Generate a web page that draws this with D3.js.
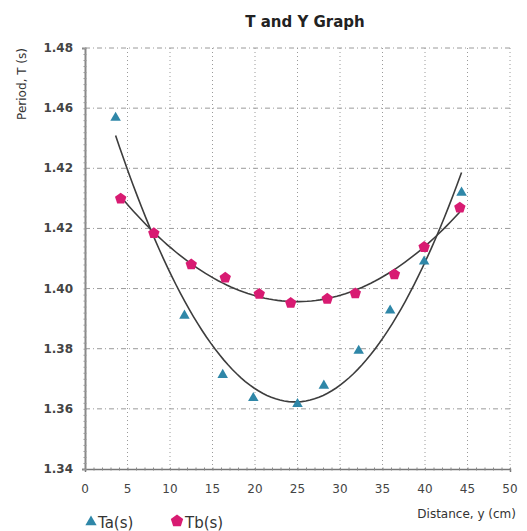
<!DOCTYPE html>
<html>
<head>
<meta charset="utf-8">
<script src="https://cdn.jsdelivr.net/npm/d3@7"></script>
<style>
  body { margin: 0; background: #fff; }
  svg text { font-family: "DejaVu Sans", Verdana, sans-serif; }
</style>
</head>
<body>
<div id="chart-area"></div>
<script>
// distance y (cm) and periods
const taX = [3.6, 11.7, 16.2, 19.8, 25.0, 28.1, 32.2, 35.9, 39.9, 44.3];
const taY = [1.4568, 1.391, 1.3713, 1.3636, 1.3616, 1.3677, 1.3793, 1.3927, 1.409, 1.4319];
const tbX = [4.2, 8.1, 12.5, 16.5, 20.5, 24.2, 28.5, 31.8, 36.4, 39.9, 44.1];
const tbY = [1.4299, 1.4184, 1.408, 1.4036, 1.3982, 1.3952, 1.3966, 1.3984, 1.4047, 1.4138, 1.4269];

const xTicks = [0, 5, 10, 15, 20, 25, 30, 35, 40, 45, 50];
const yTicks = [1.34, 1.36, 1.38, 1.40, 1.42, 1.44, 1.46, 1.48];
const yTickLabels = ["1.34", "1.36", "1.38", "1.40", "1.42", "1.42", "1.46", "1.48"];

const svgWidth = 527, svgHeight = 531;
const margin = { top: 48, right: 17, bottom: 62, left: 85 };
const width = svgWidth - margin.left - margin.right;
const height = svgHeight - margin.top - margin.bottom;

const svg = d3.select("#chart-area").append("svg")
    .attr("width", svgWidth)
    .attr("height", svgHeight);

const g = svg.append("g")
    .attr("transform", `translate(${margin.left},${margin.top})`);

const xScale = d3.scaleLinear().domain([0, 50]).range([0, width]);
const yScale = d3.scaleLinear().domain([1.34, 1.48]).range([height, 0]);

// grid
g.append("g")
    .selectAll("line")
    .data(xTicks.slice(1))
    .join("line")
    .attr("x1", d => xScale(d)).attr("x2", d => xScale(d))
    .attr("y1", 0).attr("y2", height)
    .attr("stroke", "#9a9a9a")
    .attr("stroke-width", 1)
    .attr("stroke-dasharray", "1,3");

g.append("g")
    .selectAll("line")
    .data(yTicks.slice(1))
    .join("line")
    .attr("x1", 0).attr("x2", width)
    .attr("y1", d => yScale(d)).attr("y2", d => yScale(d))
    .attr("stroke", "#9a9a9a")
    .attr("stroke-width", 1)
    .attr("stroke-dasharray", "5,3,1,3");

// axes with minor ticks
const xAxisG = g.append("g")
    .attr("transform", `translate(0,${height})`)
    .call(d3.axisBottom(xScale).ticks(50).tickSize(3).tickFormat(""));
xAxisG.select(".domain").attr("stroke", "#777").attr("stroke-width", 1.5);
xAxisG.selectAll(".tick line").attr("stroke", "#888").attr("transform", "translate(0,-1.5)");

g.append("g")
    .selectAll("text")
    .data(xTicks)
    .join("text")
    .attr("x", d => xScale(d))
    .attr("y", height + 24)
    .attr("text-anchor", "middle")
    .style("font-size", "12px")
    .attr("fill", "#444")
    .text(d => d);

const yAxisG = g.append("g")
    .call(d3.axisLeft(yScale).ticks(70).tickSize(3).tickFormat(""));
yAxisG.select(".domain").attr("stroke", "#888").attr("stroke-width", 2);
yAxisG.selectAll(".tick line").attr("stroke", "#999").attr("transform", "translate(1.5,0)");

g.append("g")
    .selectAll("text")
    .data(yTicks)
    .join("text")
    .attr("x", -12)
    .attr("y", d => yScale(d) + 4)
    .attr("text-anchor", "end")
    .style("font-size", "12px")
    .style("font-weight", "bold")
    .attr("fill", "#444")
    .text((d, i) => yTickLabels[i]);

// quadratic trendlines (least squares on the data)
function quadFit(xs, ys) {
    let s = [0, 0, 0, 0, 0], t = [0, 0, 0];
    xs.forEach((x, i) => {
        for (let k = 0; k < 5; k++) s[k] += Math.pow(x, k);
        for (let k = 0; k < 3; k++) t[k] += ys[i] * Math.pow(x, k);
    });
    const m = [[s[0], s[1], s[2], t[0]], [s[1], s[2], s[3], t[1]], [s[2], s[3], s[4], t[2]]];
    for (let c = 0; c < 3; c++) {
        for (let r = c + 1; r < 3; r++) {
            const f = m[r][c] / m[c][c];
            for (let k = c; k < 4; k++) m[r][k] -= f * m[c][k];
        }
    }
    const b = [0, 0, 0];
    for (let r = 2; r >= 0; r--) {
        let v = m[r][3];
        for (let k = r + 1; k < 3; k++) v -= m[r][k] * b[k];
        b[r] = v / m[r][r];
    }
    return x => b[0] + b[1] * x + b[2] * x * x;
}

const line = d3.line().x(d => xScale(d[0])).y(d => yScale(d[1]));

[[taX, taY], [tbX, tbY]].forEach(([xs, ys]) => {
    const f = quadFit(xs, ys);
    const lo = d3.min(xs), hi = d3.max(xs);
    const pts = d3.range(lo, hi + 0.01, (hi - lo) / 80).map(x => [x, f(x)]);
    g.append("path")
        .datum(pts)
        .attr("fill", "none")
        .attr("stroke", "#3d3d3d")
        .attr("stroke-width", 1.6)
        .attr("d", line);
});

// markers
const pentagon = r => {
    const p = d3.range(5).map(i => {
        const a = -Math.PI / 2 + i * 2 * Math.PI / 5;
        return [r * Math.cos(a), r * Math.sin(a)];
    });
    return "M" + p.map(q => q.join(",")).join("L") + "Z";
};

g.append("g")
    .selectAll("path")
    .data(taX.map((x, i) => [x, taY[i]]))
    .join("path")
    .attr("transform", d => `translate(${xScale(d[0])},${yScale(d[1])})`)
    .attr("d", d3.symbol().type(d3.symbolTriangle).size(48))
    .attr("fill", "#2f87a8");

g.append("g")
    .selectAll("path")
    .data(tbX.map((x, i) => [x, tbY[i]]))
    .join("path")
    .attr("transform", d => `translate(${xScale(d[0])},${yScale(d[1])})`)
    .attr("d", pentagon(6))
    .attr("fill", "#d81b72");

// titles
svg.append("text")
    .attr("x", 305)
    .attr("y", 27)
    .attr("text-anchor", "middle")
    .style("font-size", "15px")
    .style("font-weight", "bold")
    .attr("fill", "#222")
    .text("T and Y Graph");

svg.append("text")
    .attr("transform", "rotate(-90)")
    .attr("x", -84)
    .attr("y", 26)
    .attr("text-anchor", "middle")
    .style("font-size", "12px")
    .attr("fill", "#333")
    .text("Period, T (s)");

svg.append("text")
    .attr("x", 516)
    .attr("y", 518)
    .attr("text-anchor", "end")
    .style("font-size", "12px")
    .attr("fill", "#333")
    .text("Distance, y (cm)");

// legend
const legend = svg.append("g").attr("transform", "translate(0,521)");
legend.append("path")
    .attr("transform", "translate(91,1)")
    .attr("d", d3.symbol().type(d3.symbolTriangle).size(55))
    .attr("fill", "#2f87a8");
legend.append("text")
    .attr("x", 98).attr("y", 7)
    .style("font-size", "15px")
    .attr("fill", "#333")
    .text("Ta(s)");
legend.append("path")
    .attr("transform", "translate(177,0)")
    .attr("d", pentagon(6.5))
    .attr("fill", "#d81b72");
legend.append("text")
    .attr("x", 185).attr("y", 7)
    .style("font-size", "15px")
    .attr("fill", "#333")
    .text("Tb(s)");
</script>
</body>
</html>
